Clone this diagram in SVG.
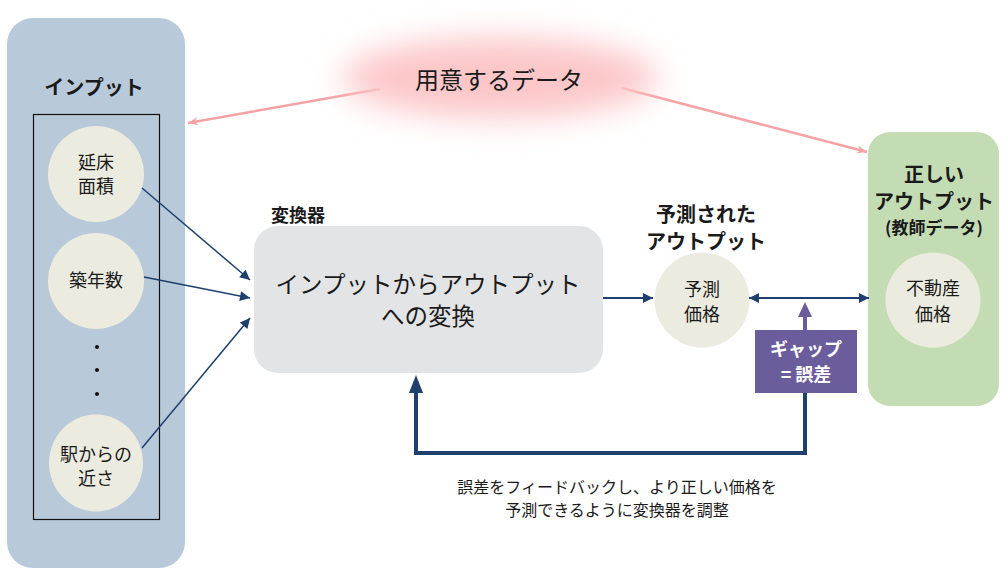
<svg xmlns="http://www.w3.org/2000/svg" width="1006" height="577" viewBox="0 0 1006 577">
<style>
text{font-family:"Noto Sans CJK JP","Noto Sans",sans-serif;fill:#1a1a1a}
.b{font-weight:bold}
.c{text-anchor:middle}
.circ{fill:#ecebe0}
.dk{stroke:#1f3f6e;fill:none}
.pk{stroke:#f4a3a5;stroke-width:2.5;fill:none}
</style>
<defs>
<marker id="ah" viewBox="0 0 10 10" refX="10" refY="5" markerWidth="14" markerHeight="10" markerUnits="userSpaceOnUse" orient="auto-start-reverse">
<path d="M0,0L10,5L0,10z" fill="#1f3f6e"/>
</marker>
<marker id="ap" viewBox="0 0 10 10" refX="10" refY="5" markerWidth="14" markerHeight="10" markerUnits="userSpaceOnUse" orient="auto">
<path d="M0,1L10,5L0,9L3,5z" fill="#f4a3a5"/>
</marker>
<filter id="blur" x="-50%" y="-100%" width="200%" height="300%">
<feGaussianBlur stdDeviation="16"/>
</filter>
</defs>

<g id="input">
<rect x="7" y="18" width="178" height="550" rx="26" fill="#b8cad9"/>
<text x="94" y="95" class="c b" font-size="20">インプット</text>
<rect x="33.5" y="114.5" width="126" height="405" fill="none" stroke="#111" stroke-width="1.2"/>
</g>
<g id="n-area">
<circle cx="96" cy="174" r="48" class="circ"/>
<text x="96" y="169" class="c" font-size="18">延床</text>
<text x="96" y="193" class="c" font-size="18">面積</text>
</g>
<g id="n-age">
<circle cx="96" cy="281" r="48" class="circ"/>
<text x="96" y="287" class="c" font-size="18">築年数</text>
</g>
<g id="dots" fill="#111">
<circle cx="97" cy="347" r="2"/>
<circle cx="97" cy="370" r="2"/>
<circle cx="97" cy="394" r="2"/>
</g>
<g id="n-station">
<ellipse cx="96" cy="463" rx="47" ry="48.5" class="circ"/>
<text x="96" y="461" class="c" font-size="18">駅からの</text>
<text x="96" y="485" class="c" font-size="18">近さ</text>
</g>

<g id="transformer">
<text x="271" y="222" class="b" font-size="18">変換器</text>
<rect x="254" y="226" width="349" height="147" rx="24" fill="#e2e4e6"/>
<text x="428" y="293" class="c" font-size="23.5">インプットからアウトプット</text>
<text x="428" y="325" class="c" font-size="23.5">への変換</text>
</g>

<g id="predicted">
<text x="706" y="222" class="c b" font-size="20">予測された</text>
<text x="706" y="249" class="c b" font-size="20">アウトプット</text>
<circle cx="702" cy="300" r="47.5" class="circ"/>
<text x="702" y="296" class="c" font-size="18">予測</text>
<text x="702" y="321" class="c" font-size="18">価格</text>
</g>

<g id="correct">
<rect x="868" y="132" width="131" height="274" rx="22" fill="#c4dcb4"/>
<text x="934" y="182" class="c b" font-size="20">正しい</text>
<text x="934" y="209" class="c b" font-size="20">アウトプット</text>
<text x="934" y="234" class="c b" font-size="17">(教師データ)</text>
<circle cx="933" cy="300" r="47.5" class="circ"/>
<text x="933" y="295" class="c" font-size="18">不動産</text>
<text x="933" y="321" class="c" font-size="18">価格</text>
</g>

<g id="gap">
<rect x="755" y="330" width="102" height="63" fill="#6b5d9b"/>
<text x="806" y="356" class="c b" font-size="18" style="fill:#fff">ギャップ</text>
<text x="806" y="381" class="c b" font-size="18" style="fill:#fff">= 誤差</text>
</g>

<g id="connectors">
<line x1="380" y1="89" x2="188" y2="123" class="pk" marker-end="url(#ap)"/>
<line x1="622" y1="88" x2="867" y2="152" class="pk" marker-end="url(#ap)"/>
<line x1="142" y1="188" x2="250" y2="280" class="dk" stroke-width="1.5" marker-end="url(#ah)"/>
<line x1="144" y1="277" x2="250" y2="298" class="dk" stroke-width="1.5" marker-end="url(#ah)"/>
<line x1="142" y1="448" x2="250" y2="318" class="dk" stroke-width="1.5" marker-end="url(#ah)"/>
<line x1="603" y1="298" x2="653" y2="298" class="dk" stroke-width="2" marker-end="url(#ah)"/>
<line x1="749" y1="298" x2="869" y2="298" class="dk" stroke-width="2" marker-start="url(#ah)" marker-end="url(#ah)"/>
<line x1="805" y1="330" x2="805" y2="316" stroke="#6b5d9b" stroke-width="4"/>
<path d="M798,317L805,302L812,317z" fill="#6b5d9b"/>
<polyline points="805,393 805,453 416,453 416,392" class="dk" stroke-width="4"/>
<path d="M409,393L416,375L423,393z" fill="#1f3f6e"/>
<text x="617" y="493" class="c" font-size="16">誤差をフィードバックし、より正しい価格を</text>
<text x="617" y="516" class="c" font-size="16">予測できるように変換器を調整</text>
</g>

<g id="cloud">
<ellipse cx="500" cy="78" rx="158" ry="40" fill="#fcc6c8" filter="url(#blur)"/>
<text x="499" y="89" class="c" font-size="24">用意するデータ</text>
</g>
</svg>
